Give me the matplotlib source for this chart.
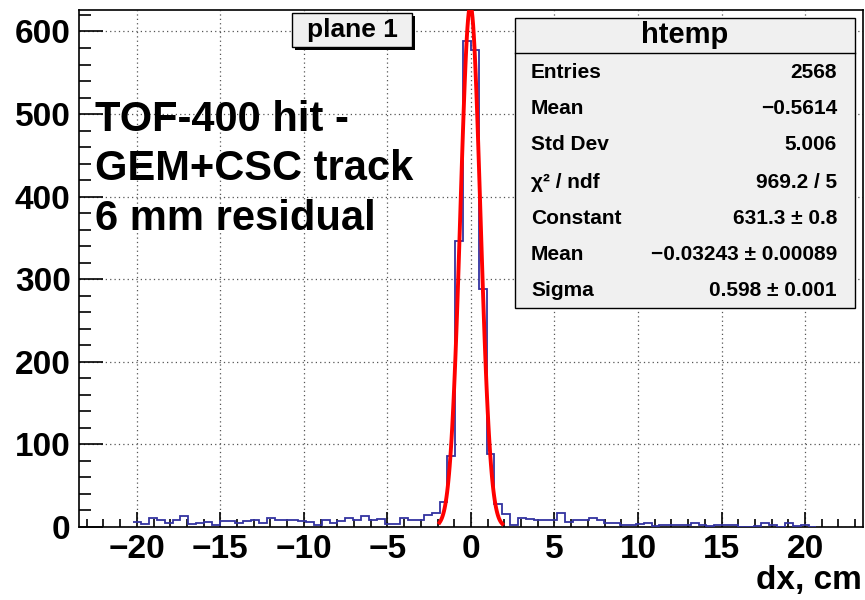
import numpy as np
import matplotlib.pyplot as plt
from matplotlib.patches import Rectangle
from matplotlib.lines import Line2D
from matplotlib.ticker import MultipleLocator

plt.rcParams['font.family'] = ['Liberation Sans', 'DejaVu Sans']

# histogram (dx, cm), bins of 0.47 starting at -20.21
bin_width = 0.47
first_edge = -20.21
counts_neg = [6, 4, 11, 9, 5, 9, 13, 4, 5, 6, 3, 7, 7, 5, 7, 8, 5, 11, 9, 9,
              9, 7, 6, 3, 8, 5, 7, 11, 8, 13, 8, 10, 4, 4, 11, 8, 9, 15, 17, 30,
              86, 346, 589]
counts_pos = [578, 288, 88, 28, 16, 3, 11, 10, 9, 8, 8, 17, 6, 8, 8, 11, 8, 5, 5, 3,
              3, 4, 5, 1, 3, 3, 2, 2, 5, 3, 1, 3, 3, 3, 0, 0, 1, 5, 3, 0,
              5, 1, 3, 0]

# gaussian fit results (from the stats box)
fit_const, fit_mean, fit_sigma = 631.3, -0.03243, 0.598
fit_lo, fit_hi = -1.88, 1.88

stat_names = ['Entries', 'Mean', 'Std Dev', 'χ² / ndf', 'Constant', 'Mean', 'Sigma']
stat_values = ['2568', '\u22120.5614', '5.006', '969.2 / 5', '631.3 ± 0.8',
               '\u22120.03243 ± 0.00089', '0.598 ± 0.001']

W, H = 865, 600
fx = lambda px: px / W
fy = lambda py: 1 - py / H

fig = plt.figure(figsize=(W / 100, H / 100), dpi=100)
ax = fig.add_axes([fx(79), fy(527), fx(863) - fx(79), fy(10) - fy(527)])

counts = np.array(counts_neg + counts_pos, dtype=float)
edges = first_edge + bin_width * np.arange(len(counts) + 1)
ax.stairs(counts, edges, color='#3333a0', lw=1.3, baseline=None, zorder=3)

xf = np.linspace(fit_lo, fit_hi, 100)
yf = fit_const * np.exp(-0.5 * ((xf - fit_mean) / fit_sigma) ** 2)
ax.plot(xf, yf, color='#ff0000', lw=2.8, zorder=4)

ax.set_xlim(-23.46, 23.47)
ax.set_ylim(0, 626)
ax.xaxis.set_major_locator(MultipleLocator(5))
ax.xaxis.set_minor_locator(MultipleLocator(1))
ax.yaxis.set_major_locator(MultipleLocator(100))
ax.yaxis.set_minor_locator(MultipleLocator(20))
ax.grid(True, which='major', color='#555555', ls=(0, (1, 2.5)), lw=0.9)
ax.tick_params(axis='both', which='both', direction='in', width=1.2,
               top=False, right=False, labelsize=24)
ax.tick_params(axis='x', which='major', length=11, pad=5)
ax.tick_params(axis='x', which='minor', length=5.6)
ax.tick_params(axis='y', which='major', length=17, pad=6)
ax.tick_params(axis='y', which='minor', length=8.6)
for lab in ax.get_xticklabels() + ax.get_yticklabels():
    lab.set_fontweight('bold')
for s in ax.spines.values():
    s.set_linewidth(1.2)

ax.text(0.02, 0.826, 'TOF-400 hit -\nGEM+CSC track\n6 mm residual', transform=ax.transAxes,
        fontsize=30, fontweight='bold', va='top', ha='left', linespacing=1.3, zorder=5)

fig.text(fx(862), fy(581), 'dx, cm', fontsize=24, fontweight='bold', ha='right', va='center')

# "plane 1" label box with shadow
fig.patches.append(Rectangle((fx(295), fy(50)), fx(412) - fx(292), fy(13) - fy(47),
                             transform=fig.transFigure, facecolor='black', edgecolor='none'))
fig.patches.append(Rectangle((fx(292), fy(47)), fx(412) - fx(292), fy(13) - fy(47),
                             transform=fig.transFigure, facecolor='#f0f0f0', edgecolor='black', lw=1))
fig.text(fx(352), fy(30), 'plane 1', fontsize=19, fontweight='bold', ha='center', va='center')

# stats box
fig.patches.append(Rectangle((fx(515), fy(308)), fx(855) - fx(515), fy(18) - fy(308),
                             transform=fig.transFigure, facecolor='#f0f0f0', edgecolor='black', lw=1))
fig.lines.append(Line2D([fx(515), fx(855)], [fy(53), fy(53)], transform=fig.transFigure,
                        color='black', lw=1))
fig.text(fx(685), fy(35), 'htemp', fontsize=21, fontweight='bold', ha='center', va='center')
row_y = [72, 109, 145, 182, 218, 255, 291]
for name, val, ry in zip(stat_names, stat_values, row_y):
    fig.text(fx(531), fy(ry), name, fontsize=15, fontweight='bold', ha='left', va='center')
    fig.text(fx(837), fy(ry), val, fontsize=15, fontweight='bold', ha='right', va='center')

fig.savefig('out.png', dpi=100)
